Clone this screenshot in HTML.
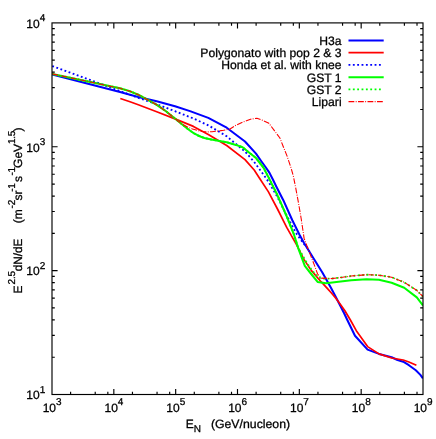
<!DOCTYPE html>
<html><head><meta charset="utf-8"><title>plot</title>
<style>
html,body{margin:0;padding:0;background:#fff;}
svg{display:block}
text{text-rendering:geometricPrecision;stroke:#000;stroke-width:0.28px;font-family:"Liberation Sans",sans-serif;font-size:12px;fill:#000}
.sup{font-size:10px;letter-spacing:-0.25px}
</style></head><body>
<svg style="will-change:transform" width="436" height="439" viewBox="0 0 436 439">
<rect width="436" height="439" fill="#fff"/>
<defs><clipPath id="cp"><rect x="52.0" y="22.9" width="371.0" height="371.6"/></clipPath></defs>

<g fill="none" stroke-linejoin="round" clip-path="url(#cp)">
<path d="M52.25,74.60 L120.00,91.90 L138.30,96.90 L156.70,101.30 L175.00,106.20 L190.00,111.10 L208.30,117.90 L226.70,127.70 L245.00,141.50 L256.00,153.60 L261.50,161.50 L265.50,167.00 L269.50,172.90 L273.00,179.80 L276.40,186.70 L283.30,200.20 L292.20,220.00 L299.50,234.70 L303.90,242.80 L313.00,257.50 L322.20,272.20 L326.60,280.00 L331.20,288.30 L335.80,297.00 L340.30,305.70 L344.00,313.00 L347.20,319.80 L355.00,335.80 L367.60,349.60 L379.00,353.90 L391.60,357.20 L397.50,360.00 L403.20,361.70 L408.90,365.20 L415.80,370.30 L420.40,374.90 L422.90,378.30" stroke="#0000ff" stroke-width="2.05"/>
<path d="M120.30,98.50 L130.00,101.80 L138.30,104.80 L156.70,111.70 L175.00,118.90 L193.40,126.40 L208.30,134.40 L226.70,145.50 L245.00,159.60 L254.20,170.00 L259.20,177.80 L268.30,191.60 L277.50,209.00 L286.70,227.40 L296.50,244.70 L303.90,259.40 L311.20,270.40 L320.40,281.00 L322.90,283.70 L327.50,288.70 L331.20,292.80 L335.80,298.30 L340.30,304.30 L344.90,310.70 L350.40,320.00 L356.30,330.70 L367.60,346.60 L379.00,353.90 L391.60,358.00 L403.20,360.00 L408.90,362.00 L416.40,365.20" stroke="#ff0000" stroke-width="1.7"/>
<path d="M52.25,66.00 L138.30,97.80 L156.70,104.20 L175.00,111.20 L193.40,118.50 L208.30,125.30 L226.70,136.30 L245.00,151.50 L254.20,162.00 L263.40,174.50 L268.30,181.50 L277.50,197.10 L286.70,215.50 L295.90,232.90 L303.20,243.00 L307.50,248.00 L309.50,251.00" stroke="#0000ff" stroke-width="1.85" stroke-dasharray="1.85 2.5"/>
<path d="M52.25,73.90 L120.00,88.30 L129.20,91.00 L138.30,94.70 L147.50,99.70 L156.70,104.80 L165.90,111.20 L175.00,118.50 L179.50,122.30 L183.80,125.70 L187.50,128.70 L190.60,131.00 L194.00,133.30 L197.50,135.20 L201.00,136.80 L204.40,138.00 L211.30,139.50 L218.10,140.80 L226.70,142.30 L235.90,144.90 L242.60,147.20 L248.10,151.80 L256.00,158.00 L263.40,167.50 L268.30,176.90 L277.50,195.30 L286.70,216.40 L294.00,234.70 L298.30,248.30 L304.80,265.80 L311.20,274.00 L317.60,281.90 L326.00,283.30 L338.60,281.80 L351.20,280.30 L366.40,279.30 L379.00,279.80 L391.60,282.80 L404.20,287.80 L416.80,297.40 L423.10,305.50" stroke="#00ff00" stroke-width="2.05"/>
<path d="M52.25,73.90 L120.00,88.30 L129.20,91.00 L138.30,94.70 L147.50,99.70 L156.70,104.80 L165.90,111.20 L175.00,118.50 L179.50,122.30 L183.80,125.70 L187.50,128.70 L190.60,131.00 L194.00,133.30 L197.50,135.20 L201.00,136.80 L204.40,138.00 L211.30,139.50 L218.10,140.80 L226.70,142.30 L235.90,144.90 L242.60,147.20 L248.10,151.80 L256.00,158.00 L263.40,167.50 L268.30,176.90 L277.50,195.30 L286.70,216.40 L294.00,234.70 L298.30,248.30 L302.10,254.40 L305.50,260.80 L308.90,266.00 L312.30,270.80 L315.70,274.50 L318.50,277.40 L321.30,278.60 L331.40,278.60 L342.40,277.30 L351.20,276.00 L366.40,274.70 L379.00,275.20 L391.60,277.20 L404.20,282.30 L416.80,290.40 L423.10,296.70" stroke="#00ff00" stroke-width="1.85" stroke-dasharray="1.85 2.5"/>
<path d="M52.25,73.90 L120.00,88.30 L129.20,91.00 L138.30,94.70 L147.50,99.70 L156.70,104.80 L165.90,111.20 L175.00,118.50 L181.00,123.50 L187.90,127.20 L192.50,129.00 L197.50,130.50 L202.50,131.50 L207.10,131.90 L212.00,131.70 L216.80,131.20 L223.60,130.30 L230.00,129.00 L235.90,125.30 L245.00,121.20 L250.50,119.30 L256.90,118.20 L263.30,120.60 L268.90,123.30 L274.40,130.70 L279.90,138.00 L283.50,147.20 L287.20,156.40 L290.90,167.40 L293.40,176.30 L295.90,188.90 L298.60,203.50 L301.40,220.00 L304.10,238.40 L307.50,247.40 L313.90,263.90 L317.60,274.00 L321.30,278.10 L331.40,278.60 L342.40,277.30 L351.20,276.00 L366.40,274.70 L379.00,275.20 L391.60,277.20 L404.20,282.30 L416.80,290.40 L423.10,296.70" stroke="#ff0000" stroke-width="1.1" stroke-dasharray="5.8 1.4 0.9 1.4"/>
</g>
<g stroke="#000" stroke-width="1.15" fill="none" shape-rendering="auto">
<rect x="52.0" y="22.9" width="371.00" height="371.60"/>
<path d="M70.61,394.5 v-2.8 M70.61,22.9 v2.8 M95.22,394.5 v-2.8 M95.22,22.9 v2.8 M107.84,394.5 v-2.8 M107.84,22.9 v2.8 M113.83,394.5 v-5.6 M113.83,22.9 v5.6 M132.45,394.5 v-2.8 M132.45,22.9 v2.8 M157.05,394.5 v-2.8 M157.05,22.9 v2.8 M169.67,394.5 v-2.8 M169.67,22.9 v2.8 M175.67,394.5 v-5.6 M175.67,22.9 v5.6 M194.28,394.5 v-2.8 M194.28,22.9 v2.8 M218.89,394.5 v-2.8 M218.89,22.9 v2.8 M231.51,394.5 v-2.8 M231.51,22.9 v2.8 M237.50,394.5 v-5.6 M237.50,22.9 v5.6 M256.11,394.5 v-2.8 M256.11,22.9 v2.8 M280.72,394.5 v-2.8 M280.72,22.9 v2.8 M293.34,394.5 v-2.8 M293.34,22.9 v2.8 M299.33,394.5 v-5.6 M299.33,22.9 v5.6 M317.95,394.5 v-2.8 M317.95,22.9 v2.8 M342.55,394.5 v-2.8 M342.55,22.9 v2.8 M355.17,394.5 v-2.8 M355.17,22.9 v2.8 M361.17,394.5 v-5.6 M361.17,22.9 v5.6 M379.78,394.5 v-2.8 M379.78,22.9 v2.8 M404.39,394.5 v-2.8 M404.39,22.9 v2.8 M417.01,394.5 v-2.8 M417.01,22.9 v2.8 M52.0,357.21 h2.8 M423.0,357.21 h-2.8 M52.0,335.40 h2.8 M423.0,335.40 h-2.8 M52.0,319.92 h2.8 M423.0,319.92 h-2.8 M52.0,307.92 h2.8 M423.0,307.92 h-2.8 M52.0,298.11 h2.8 M423.0,298.11 h-2.8 M52.0,289.82 h2.8 M423.0,289.82 h-2.8 M52.0,282.64 h2.8 M423.0,282.64 h-2.8 M52.0,276.30 h2.8 M423.0,276.30 h-2.8 M52.0,270.63 h5.6 M423.0,270.63 h-5.6 M52.0,233.35 h2.8 M423.0,233.35 h-2.8 M52.0,211.53 h2.8 M423.0,211.53 h-2.8 M52.0,196.06 h2.8 M423.0,196.06 h-2.8 M52.0,184.05 h2.8 M423.0,184.05 h-2.8 M52.0,174.25 h2.8 M423.0,174.25 h-2.8 M52.0,165.95 h2.8 M423.0,165.95 h-2.8 M52.0,158.77 h2.8 M423.0,158.77 h-2.8 M52.0,152.43 h2.8 M423.0,152.43 h-2.8 M52.0,146.77 h5.6 M423.0,146.77 h-5.6 M52.0,109.48 h2.8 M423.0,109.48 h-2.8 M52.0,87.67 h2.8 M423.0,87.67 h-2.8 M52.0,72.19 h2.8 M423.0,72.19 h-2.8 M52.0,60.19 h2.8 M423.0,60.19 h-2.8 M52.0,50.38 h2.8 M423.0,50.38 h-2.8 M52.0,42.09 h2.8 M423.0,42.09 h-2.8 M52.0,34.90 h2.8 M423.0,34.90 h-2.8 M52.0,28.57 h2.8 M423.0,28.57 h-2.8"/>
</g>
<text x="52.00" y="411.5" text-anchor="middle">10<tspan class="sup" dy="-6.4">3</tspan></text>
<text x="113.83" y="411.5" text-anchor="middle">10<tspan class="sup" dy="-6.4">4</tspan></text>
<text x="175.67" y="411.5" text-anchor="middle">10<tspan class="sup" dy="-6.4">5</tspan></text>
<text x="237.50" y="411.5" text-anchor="middle">10<tspan class="sup" dy="-6.4">6</tspan></text>
<text x="299.33" y="411.5" text-anchor="middle">10<tspan class="sup" dy="-6.4">7</tspan></text>
<text x="361.17" y="411.5" text-anchor="middle">10<tspan class="sup" dy="-6.4">8</tspan></text>
<text x="423.00" y="411.5" text-anchor="middle">10<tspan class="sup" dy="-6.4">9</tspan></text>
<text x="45.0" y="399.30" text-anchor="end">10<tspan class="sup" dy="-6.4">1</tspan></text>
<text x="45.0" y="275.43" text-anchor="end">10<tspan class="sup" dy="-6.4">2</tspan></text>
<text x="45.0" y="151.57" text-anchor="end">10<tspan class="sup" dy="-6.4">3</tspan></text>
<text x="45.0" y="27.70" text-anchor="end">10<tspan class="sup" dy="-6.4">4</tspan></text>
<text x="185.7" y="428">E<tspan class="sup" dy="3.5">N</tspan></text>
<text x="210.9" y="428" textLength="79.2" lengthAdjust="spacingAndGlyphs">(GeV/nucleon)</text>
<text transform="translate(22.40,293.50) rotate(-90)">E</text>
<text class="sup" transform="translate(15.30,284.40) rotate(-90)">2.5</text>
<text textLength="32.5" lengthAdjust="spacingAndGlyphs" transform="translate(22.40,271.30) rotate(-90)">dN/dE</text>
<text transform="translate(22.40,223.30) rotate(-90)">(m</text>
<text class="sup" transform="translate(15.30,208.40) rotate(-90)">-2</text>
<text transform="translate(22.40,200.50) rotate(-90)">sr</text>
<text class="sup" transform="translate(15.30,191.80) rotate(-90)">-1</text>
<text transform="translate(22.40,182.00) rotate(-90)">s</text>
<text class="sup" transform="translate(15.30,175.60) rotate(-90)">-1</text>
<text transform="translate(22.40,167.90) rotate(-90)">GeV</text>
<text class="sup" transform="translate(15.30,144.00) rotate(-90)">1.5</text>
<text transform="translate(22.40,131.50) rotate(-90)">)</text>
<text x="341.6" y="45.00" text-anchor="end" style="font-size:12.16px">H3a</text>
<path d="M348.5,40.50 H383.7" stroke="#0000ff" stroke-width="2.05" fill="none"/>
<text x="341.6" y="57.22" text-anchor="end" style="font-size:12.16px">Polygonato with pop 2 &amp; 3</text>
<path d="M348.5,52.72 H383.7" stroke="#ff0000" stroke-width="1.7" fill="none"/>
<text x="341.6" y="69.44" text-anchor="end" style="font-size:12.16px">Honda et al. with knee</text>
<path d="M348.5,64.94 H381.6" stroke="#0000ff" stroke-width="1.85" fill="none" stroke-dasharray="1.85 2.5"/>
<text x="341.6" y="81.66" text-anchor="end" style="font-size:12.16px">GST 1</text>
<path d="M348.5,77.16 H383.7" stroke="#00ff00" stroke-width="2.05" fill="none"/>
<text x="341.6" y="93.88" text-anchor="end" style="font-size:12.16px">GST 2</text>
<path d="M348.5,89.38 H381.6" stroke="#00ff00" stroke-width="1.85" fill="none" stroke-dasharray="1.85 2.5"/>
<text x="341.6" y="106.10" text-anchor="end" style="font-size:12.16px">Lipari</text>
<path d="M348.5,101.60 H383.7" stroke="#ff0000" stroke-width="1.1" fill="none" stroke-dasharray="5.8 1.4 0.9 1.4"/>
</svg></body></html>
